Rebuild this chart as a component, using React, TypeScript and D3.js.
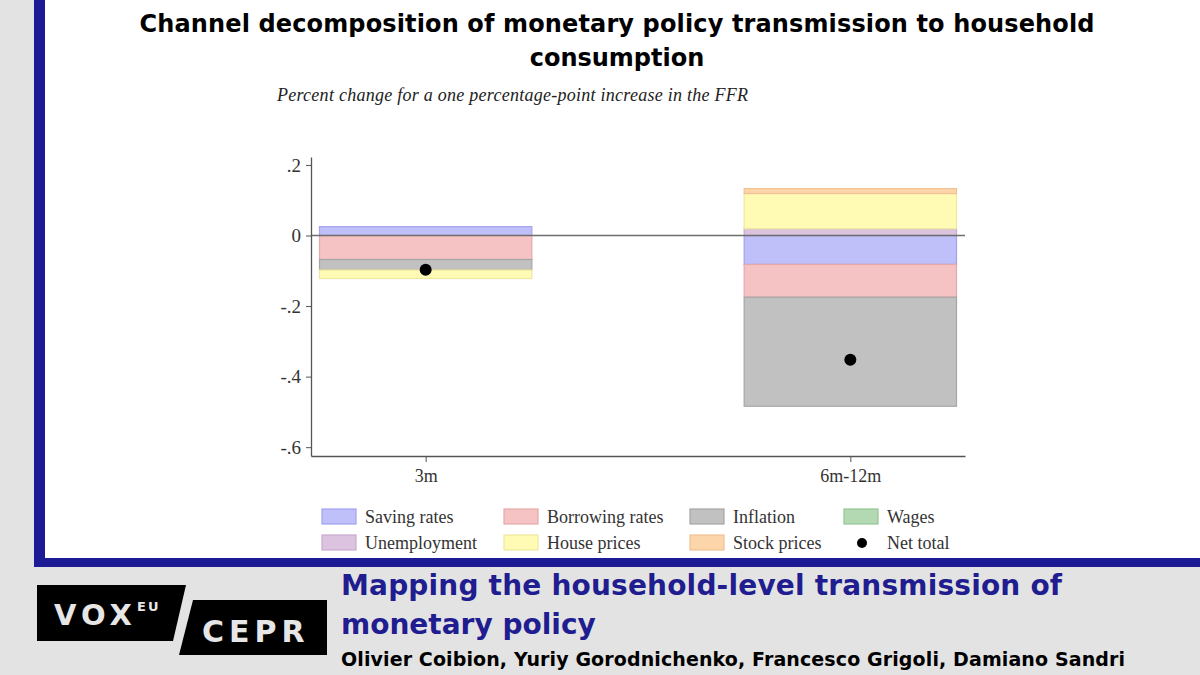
import React, { useEffect, useRef } from "react";
import * as d3 from "d3";

// horizons on the x axis
const horizons = ["3m", "6m-12m"];

// channel contributions (percent change per 1pp FFR increase)
const savingRates = [0.025, -0.082];
const borrowingRates = [-0.068, -0.093];
const inflation = [-0.03, -0.309];
const wages = [0, 0];
const unemployment = [0, 0.019];
const housePrices = [-0.024, 0.1];
const stockPrices = [0, 0.014];
const netTotal = [-0.097, -0.352];

const channels = [
  "Saving rates",
  "Borrowing rates",
  "Inflation",
  "Wages",
  "Unemployment",
  "House prices",
  "Stock prices",
];
const channelValues = [
  savingRates,
  borrowingRates,
  inflation,
  wages,
  unemployment,
  housePrices,
  stockPrices,
];
const channelFills = [
  "#bfbffa",
  "#f5c3c3",
  "#c1c1c1",
  "#b3d9b3",
  "#dcc4e0",
  "#fffbb4",
  "#fdd5ab",
];
const channelStrokes = [
  "#a2a2ee",
  "#e6a9a9",
  "#a6a6a6",
  "#96c596",
  "#c9aacd",
  "#eee8a0",
  "#f0c293",
];

const yTicks = [0.2, 0, -0.2, -0.4, -0.6];

// legend layout: two rows of four
const legendOrder = [
  "Saving rates",
  "Borrowing rates",
  "Inflation",
  "Wages",
  "Unemployment",
  "House prices",
  "Stock prices",
  "Net total",
];

const serif = "'Liberation Serif', 'DejaVu Serif', serif";
const sans = "'DejaVu Sans', sans-serif";
const frameBlue = "#1c1a94";

const App: React.FC = () => {
  const svgRef = useRef<SVGSVGElement>(null);

  useEffect(() => {
    const svg = d3.select(svgRef.current);
    svg.selectAll("*").remove();

    const W = 1200;
    const H = 675;

    // page background and frame
    svg.append("rect").attr("width", W).attr("height", H).attr("fill", "#e3e3e3");
    svg
      .append("rect")
      .attr("x", 34)
      .attr("y", 0)
      .attr("width", W - 34)
      .attr("height", 567)
      .attr("fill", frameBlue);
    svg
      .append("rect")
      .attr("x", 45)
      .attr("y", 0)
      .attr("width", W - 45)
      .attr("height", 558)
      .attr("fill", "#ffffff");

    // title
    svg
      .append("text")
      .attr("x", 617)
      .attr("y", 32)
      .attr("text-anchor", "middle")
      .attr("font-family", sans)
      .attr("font-weight", "bold")
      .attr("font-size", 24)
      .attr("textLength", 955)
      .attr("fill", "#000")
      .text("Channel decomposition of monetary policy transmission to household");
    svg
      .append("text")
      .attr("x", 617)
      .attr("y", 66)
      .attr("text-anchor", "middle")
      .attr("font-family", sans)
      .attr("font-weight", "bold")
      .attr("font-size", 24)
      .attr("fill", "#000")
      .text("consumption");

    svg
      .append("text")
      .attr("x", 277)
      .attr("y", 101)
      .attr("font-family", serif)
      .attr("font-style", "italic")
      .attr("font-size", 18)
      .attr("textLength", 471)
      .attr("fill", "#222")
      .text("Percent change for a one percentage-point increase in the FFR");

    // chart
    const left = 311;
    const right = 965;
    const top = 157;
    const bottom = 456;

    const x = d3
      .scalePoint<string>()
      .domain(horizons)
      .range([left, right])
      .padding(0.27);
    const barWidth = x.step() * 0.5;

    const y = d3.scaleLinear().domain([-0.625, 0.2225]).range([bottom, top]);

    const rows = horizons.map((h, i) => {
      const row: { [key: string]: number | string } = { horizon: h };
      channels.forEach((c, k) => {
        row[c] = channelValues[k][i];
      });
      return row;
    });

    const stacked = d3
      .stack<{ [key: string]: number | string }>()
      .keys(channels)
      .value((d, key) => d[key] as number)
      .offset(d3.stackOffsetDiverging)(rows);

    const g = svg.append("g");

    stacked.forEach((series, k) => {
      g.selectAll(null)
        .data(series.filter((d) => d[0] !== d[1]))
        .enter()
        .append("rect")
        .attr("x", (d) => (x(d.data.horizon as string) || 0) - barWidth / 2)
        .attr("width", barWidth)
        .attr("y", (d) => y(Math.max(d[0], d[1])))
        .attr("height", (d) => Math.abs(y(d[0]) - y(d[1])))
        .attr("fill", channelFills[k])
        .attr("stroke", channelStrokes[k])
        .attr("stroke-width", 1.2);
    });

    // zero line
    g.append("line")
      .attr("x1", left)
      .attr("x2", right)
      .attr("y1", y(0))
      .attr("y2", y(0))
      .attr("stroke", "#6e6e6e")
      .attr("stroke-width", 1.3);

    // net total dots
    g.selectAll(null)
      .data(netTotal)
      .enter()
      .append("circle")
      .attr("cx", (_d, i) => x(horizons[i]) || 0)
      .attr("cy", (d) => y(d))
      .attr("r", 6)
      .attr("fill", "#000");

    // Stata-style labels: ".2", "0", "-.2"
    const fmt = (d: number) =>
      d === 0
        ? "0"
        : d3.format(".1f")(d).replace("\u2212", "-").replace("0.", ".");

    const yAxis = svg
      .append("g")
      .attr("transform", `translate(${left},0)`)
      .call(
        d3
          .axisLeft(y)
          .tickValues(yTicks)
          .tickFormat((d) => fmt(d as number))
          .tickSize(5)
          .tickSizeOuter(0)
          .tickPadding(5)
      );
    yAxis.select(".domain").attr("stroke", "#555").attr("stroke-width", 1.3);
    yAxis.selectAll(".tick line").attr("stroke", "#555");
    yAxis
      .selectAll(".tick text")
      .attr("font-family", serif)
      .attr("font-size", 19)
      .attr("fill", "#333");

    const xAxis = svg
      .append("g")
      .attr("transform", `translate(0,${bottom})`)
      .call(d3.axisBottom(x).tickSize(6).tickSizeOuter(0).tickPadding(7));
    xAxis.select(".domain").attr("stroke", "#555").attr("stroke-width", 1.3);
    xAxis.selectAll(".tick line").attr("stroke", "#555");
    xAxis
      .selectAll(".tick text")
      .attr("font-family", serif)
      .attr("font-size", 18)
      .attr("fill", "#333");

    // legend
    const swatchX = [322, 504, 690, 844];
    const rowY = [509, 535];
    const legend = svg.append("g");
    legendOrder.forEach((name, i) => {
      const col = i % 4;
      const row = Math.floor(i / 4);
      const item = legend
        .append("g")
        .attr("transform", `translate(${swatchX[col]},${rowY[row]})`);
      const k = channels.indexOf(name);
      if (k >= 0) {
        item
          .append("rect")
          .attr("width", 34)
          .attr("height", 15)
          .attr("fill", channelFills[k])
          .attr("stroke", channelStrokes[k])
          .attr("stroke-width", 1.2);
      } else {
        item.append("circle").attr("cx", 18).attr("cy", 8).attr("r", 5).attr("fill", "#000");
      }
      item
        .append("text")
        .attr("x", 43)
        .attr("y", 14)
        .attr("font-family", serif)
        .attr("font-size", 18)
        .attr("fill", "#333")
        .text(name);
    });

    // VoxEU / CEPR logo
    svg
      .append("polygon")
      .attr("points", "37,585 186,585 173,641 37,641")
      .attr("fill", "#000");
    svg
      .append("polygon")
      .attr("points", "193,600 327,600 327,655 179,655")
      .attr("fill", "#000");
    svg
      .append("text")
      .attr("x", 54)
      .attr("y", 625)
      .attr("font-family", sans)
      .attr("font-weight", "bold")
      .attr("font-size", 29)
      .attr("letter-spacing", 5)
      .attr("fill", "#e6e6e6")
      .text("VOX");
    svg
      .append("text")
      .attr("x", 137)
      .attr("y", 611)
      .attr("font-family", sans)
      .attr("font-weight", "bold")
      .attr("font-size", 13)
      .attr("letter-spacing", 2)
      .attr("fill", "#e6e6e6")
      .text("EU");
    svg
      .append("text")
      .attr("x", 202)
      .attr("y", 642)
      .attr("font-family", sans)
      .attr("font-weight", "bold")
      .attr("font-size", 30)
      .attr("letter-spacing", 5)
      .attr("fill", "#e6e6e6")
      .text("CEPR");

    // footer
    svg
      .append("text")
      .attr("x", 341)
      .attr("y", 595)
      .attr("font-family", sans)
      .attr("font-weight", "bold")
      .attr("font-size", 28)
      .attr("textLength", 721)
      .attr("fill", "#1f1d8f")
      .text("Mapping the household-level transmission of");
    svg
      .append("text")
      .attr("x", 341)
      .attr("y", 634)
      .attr("font-family", sans)
      .attr("font-weight", "bold")
      .attr("font-size", 28)
      .attr("fill", "#1f1d8f")
      .text("monetary policy");
    svg
      .append("text")
      .attr("x", 341)
      .attr("y", 666)
      .attr("font-family", sans)
      .attr("font-weight", "bold")
      .attr("font-size", 19)
      .attr("textLength", 784)
      .attr("fill", "#000")
      .text("Olivier Coibion, Yuriy Gorodnichenko, Francesco Grigoli, Damiano Sandri");
  }, []);

  return (
    <div style={{ position: "fixed", left: 0, top: 0, width: 1200, height: 675 }}>
      <svg ref={svgRef} width={1200} height={675} style={{ display: "block" }}></svg>
    </div>
  );
};

export default App;
